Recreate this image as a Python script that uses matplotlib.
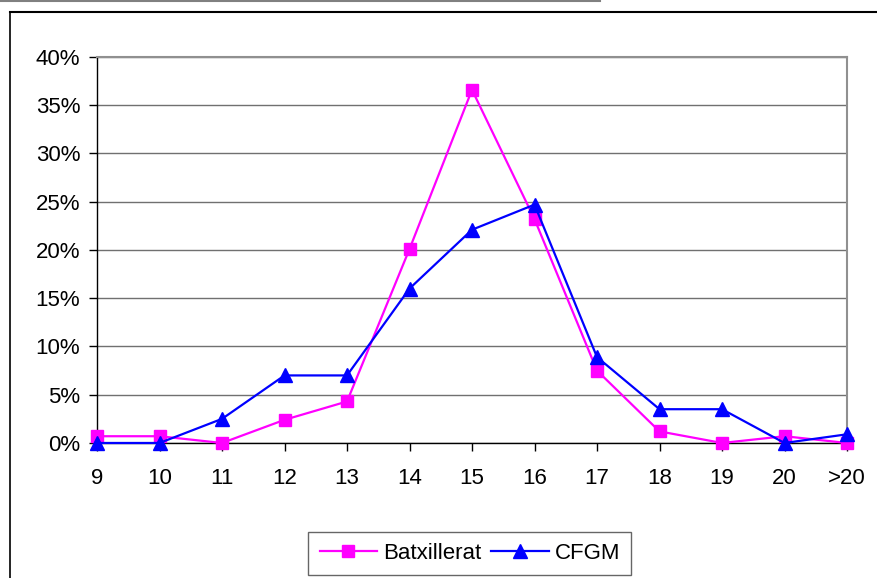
import matplotlib
matplotlib.use('Agg')
import matplotlib.pyplot as plt
from matplotlib.lines import Line2D
from matplotlib.ticker import PercentFormatter

plt.rcParams['font.family'] = ['Liberation Sans', 'DejaVu Sans']

# age categories and share of students (%)
categories = ['9', '10', '11', '12', '13', '14', '15', '16', '17', '18', '19', '20', '>20']
batxillerat = [0.7, 0.7, 0.0, 2.4, 4.3, 20.1, 36.6, 23.2, 7.5, 1.2, 0.0, 0.7, 0.0]
cfgm = [0.0, 0.0, 2.5, 7.0, 7.0, 16.0, 22.1, 24.7, 8.9, 3.5, 3.5, 0.0, 0.9]
y_ticks = [0, 5, 10, 15, 20, 25, 30, 35, 40]

fig = plt.figure(figsize=(8.78, 5.78), dpi=100)
ax = fig.add_axes([0.1105, 0.2336, 0.8542, 0.6678])

x = list(range(len(categories)))
ax.plot(x, batxillerat, color='#ff00ff', lw=1.6, marker='s', ms=9,
        mec='#ff00ff', mfc='#ff00ff', label='Batxillerat', zorder=3, clip_on=False)
ax.plot(x, cfgm, color='#0000ff', lw=1.6, marker='^', ms=10,
        mec='#0000ff', mfc='#0000ff', label='CFGM', zorder=4, clip_on=False)

ax.set_xlim(0, len(categories) - 1)
ax.set_ylim(0, 40)
ax.set_xticks(x)
ax.set_xticklabels(categories)
ax.set_yticks(y_ticks)
ax.yaxis.set_major_formatter(PercentFormatter(decimals=0))
ax.tick_params(labelsize=16, length=6, width=1, color='black', pad=6)
ax.tick_params(axis='x', pad=12)

ax.grid(axis='y', color='#707070', lw=1)
ax.set_axisbelow(True)
for s in ['top', 'right']:
    ax.spines[s].set_color('#909090')
    ax.spines[s].set_linewidth(1.5)
for s in ['left', 'bottom']:
    ax.spines[s].set_color('black')
    ax.spines[s].set_linewidth(1)

leg = fig.legend(loc='center', bbox_to_anchor=(0.535, 0.0424), ncol=2, fontsize=16,
                 frameon=True, fancybox=False, edgecolor='#404040', handlelength=2.6,
                 handletextpad=0.25, columnspacing=0.45, borderpad=0.5)
leg.get_frame().set_linewidth(1)

# outer chart frame
fig.add_artist(Line2D([10 / 878, 1], [1 - 11.5 / 578, 1 - 11.5 / 578],
                      color='black', lw=1.5, transform=fig.transFigure))
fig.add_artist(Line2D([10.5 / 878, 10.5 / 878], [0, 1 - 11.5 / 578],
                      color='black', lw=1.2, transform=fig.transFigure))
fig.add_artist(Line2D([0, 600 / 878], [1 - 0.8 / 578, 1 - 0.8 / 578],
                      color='#808080', lw=1.5, transform=fig.transFigure))

fig.savefig('out.png', dpi=100)
